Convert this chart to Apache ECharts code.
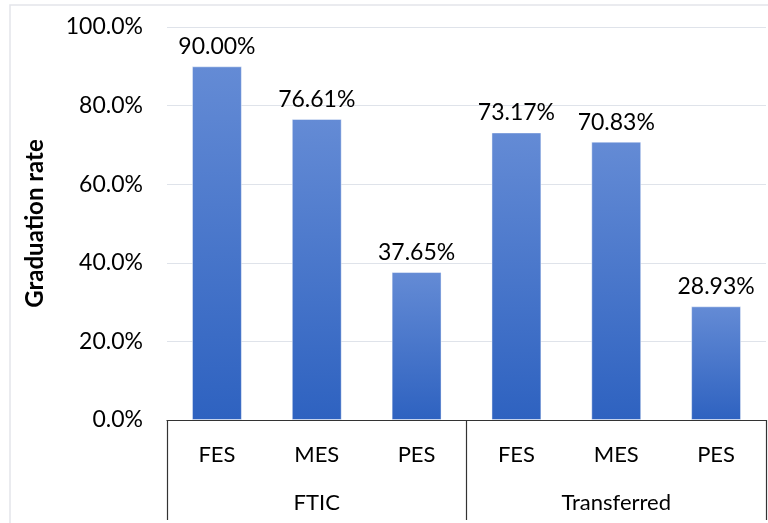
<!DOCTYPE html>
<html>
<head>
<meta charset="utf-8">
<script src="https://cdn.jsdelivr.net/npm/echarts@6/dist/echarts.min.js"></script>
<style>
  html, body { margin: 0; padding: 0; background: #fff; }
  #chart { width: 768px; height: 523px; }
</style>
</head>
<body>
<div id="chart"></div>
<script>
const levels = ['FES', 'MES', 'PES', 'FES', 'MES', 'PES'];
const groups = ['FTIC', 'Transferred'];
const rates = [90.00, 76.61, 37.65, 73.17, 70.83, 28.93];
const yTicks = [0, 20, 40, 60, 80, 100];

const font = 'Lato, "Open Sans", "Noto Sans", sans-serif';
const chart = echarts.init(document.getElementById('chart'));

chart.setOption({
  backgroundColor: '#fff',
  animation: false,
  graphic: [{
    type: 'rect',
    shape: { x: 10, y: 5, width: 800, height: 600 },
    style: { fill: 'none', stroke: '#e3e5ea', lineWidth: 1.5 },
    silent: true
  }],
  grid: { left: 167, right: 2, top: 27, bottom: 103 },
  xAxis: [{
    type: 'category',
    data: levels,
    axisLine: { show: true, lineStyle: { color: '#333', width: 1.2 } },
    axisTick: { show: false },
    axisLabel: { color: '#000', fontSize: 22, fontFamily: font, margin: 24, interval: 0 }
  }, {
    type: 'category',
    data: groups,
    position: 'bottom',
    axisLine: { show: false },
    axisTick: { show: true, length: 100, interval: 0, lineStyle: { color: '#333', width: 1.2 } },
    axisLabel: { color: '#000', fontSize: 22, fontFamily: font, margin: 72, interval: 0 }
  }],
  yAxis: {
    type: 'value',
    min: yTicks[0],
    max: yTicks[yTicks.length - 1],
    interval: 20,
    name: 'Graduation rate',
    nameLocation: 'middle',
    nameGap: 120,
    nameTextStyle: { color: '#000', fontSize: 24, fontWeight: 'bold', fontFamily: font },
    axisLine: { show: false },
    axisTick: { show: false },
    splitLine: { lineStyle: { color: '#dfe3ea', width: 1.2 } },
    axisLabel: {
      color: '#000', fontSize: 23, fontFamily: font, margin: 24,
      formatter: v => v.toFixed(1) + '%'
    }
  },
  series: [{
    type: 'bar',
    xAxisIndex: 0,
    data: rates,
    barWidth: '50%',
    itemStyle: {
      color: new echarts.graphic.LinearGradient(0, 0, 0, 1, [
        { offset: 0, color: '#648bd5' },
        { offset: 1, color: '#2e62c0' }
      ]),
      borderColor: 'rgba(255,255,255,0.45)',
      borderWidth: 1
    },
    label: {
      show: true,
      position: 'top',
      distance: 8,
      color: '#000',
      fontSize: 23,
      fontFamily: font,
      formatter: p => p.value.toFixed(2) + '%'
    }
  }]
});
</script>
</body>
</html>
